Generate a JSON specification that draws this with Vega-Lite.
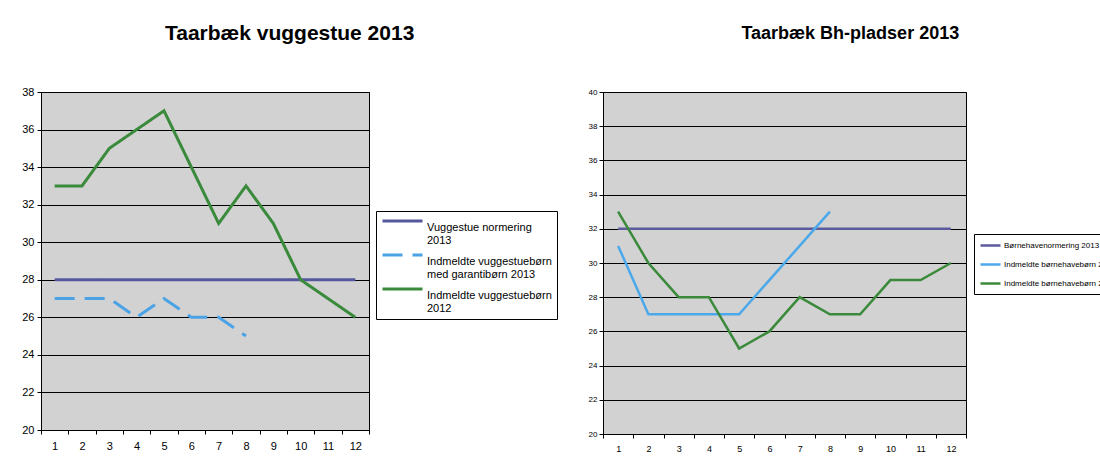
{
  "$schema": "https://vega.github.io/schema/vega-lite/v6.json",
  "background": "white",
  "padding": {"left": 21, "top": 22, "right": 0, "bottom": 0},
  "spacing": 29,
  "resolve": {
    "scale": {"color": "independent", "strokeDash": "independent", "x": "independent", "y": "independent"},
    "legend": {"color": "independent", "strokeDash": "independent"}
  },
  "datasets": {
    "vuggestue": [
      {"serie": "Vuggestue normering 2013", "maaned": 1, "antal": 28},
      {"serie": "Vuggestue normering 2013", "maaned": 2, "antal": 28},
      {"serie": "Vuggestue normering 2013", "maaned": 3, "antal": 28},
      {"serie": "Vuggestue normering 2013", "maaned": 4, "antal": 28},
      {"serie": "Vuggestue normering 2013", "maaned": 5, "antal": 28},
      {"serie": "Vuggestue normering 2013", "maaned": 6, "antal": 28},
      {"serie": "Vuggestue normering 2013", "maaned": 7, "antal": 28},
      {"serie": "Vuggestue normering 2013", "maaned": 8, "antal": 28},
      {"serie": "Vuggestue normering 2013", "maaned": 9, "antal": 28},
      {"serie": "Vuggestue normering 2013", "maaned": 10, "antal": 28},
      {"serie": "Vuggestue normering 2013", "maaned": 11, "antal": 28},
      {"serie": "Vuggestue normering 2013", "maaned": 12, "antal": 28},
      {"serie": "Indmeldte vuggestuebørn med garantibørn 2013", "maaned": 1, "antal": 27},
      {"serie": "Indmeldte vuggestuebørn med garantibørn 2013", "maaned": 2, "antal": 27},
      {"serie": "Indmeldte vuggestuebørn med garantibørn 2013", "maaned": 3, "antal": 27},
      {"serie": "Indmeldte vuggestuebørn med garantibørn 2013", "maaned": 4, "antal": 26},
      {"serie": "Indmeldte vuggestuebørn med garantibørn 2013", "maaned": 5, "antal": 27},
      {"serie": "Indmeldte vuggestuebørn med garantibørn 2013", "maaned": 6, "antal": 26},
      {"serie": "Indmeldte vuggestuebørn med garantibørn 2013", "maaned": 7, "antal": 26},
      {"serie": "Indmeldte vuggestuebørn med garantibørn 2013", "maaned": 8, "antal": 25},
      {"serie": "Indmeldte vuggestuebørn 2012", "maaned": 1, "antal": 33},
      {"serie": "Indmeldte vuggestuebørn 2012", "maaned": 2, "antal": 33},
      {"serie": "Indmeldte vuggestuebørn 2012", "maaned": 3, "antal": 35},
      {"serie": "Indmeldte vuggestuebørn 2012", "maaned": 4, "antal": 36},
      {"serie": "Indmeldte vuggestuebørn 2012", "maaned": 5, "antal": 37},
      {"serie": "Indmeldte vuggestuebørn 2012", "maaned": 6, "antal": 34},
      {"serie": "Indmeldte vuggestuebørn 2012", "maaned": 7, "antal": 31},
      {"serie": "Indmeldte vuggestuebørn 2012", "maaned": 8, "antal": 33},
      {"serie": "Indmeldte vuggestuebørn 2012", "maaned": 9, "antal": 31},
      {"serie": "Indmeldte vuggestuebørn 2012", "maaned": 10, "antal": 28},
      {"serie": "Indmeldte vuggestuebørn 2012", "maaned": 11, "antal": 27},
      {"serie": "Indmeldte vuggestuebørn 2012", "maaned": 12, "antal": 26}
    ],
    "bh": [
      {"serie": "Børnehavenormering 2013", "maaned": 1, "antal": 32},
      {"serie": "Børnehavenormering 2013", "maaned": 2, "antal": 32},
      {"serie": "Børnehavenormering 2013", "maaned": 3, "antal": 32},
      {"serie": "Børnehavenormering 2013", "maaned": 4, "antal": 32},
      {"serie": "Børnehavenormering 2013", "maaned": 5, "antal": 32},
      {"serie": "Børnehavenormering 2013", "maaned": 6, "antal": 32},
      {"serie": "Børnehavenormering 2013", "maaned": 7, "antal": 32},
      {"serie": "Børnehavenormering 2013", "maaned": 8, "antal": 32},
      {"serie": "Børnehavenormering 2013", "maaned": 9, "antal": 32},
      {"serie": "Børnehavenormering 2013", "maaned": 10, "antal": 32},
      {"serie": "Børnehavenormering 2013", "maaned": 11, "antal": 32},
      {"serie": "Børnehavenormering 2013", "maaned": 12, "antal": 32},
      {"serie": "Indmeldte børnehavebørn 2013", "maaned": 1, "antal": 31},
      {"serie": "Indmeldte børnehavebørn 2013", "maaned": 2, "antal": 27},
      {"serie": "Indmeldte børnehavebørn 2013", "maaned": 3, "antal": 27},
      {"serie": "Indmeldte børnehavebørn 2013", "maaned": 4, "antal": 27},
      {"serie": "Indmeldte børnehavebørn 2013", "maaned": 5, "antal": 27},
      {"serie": "Indmeldte børnehavebørn 2013", "maaned": 6, "antal": 29},
      {"serie": "Indmeldte børnehavebørn 2013", "maaned": 7, "antal": 31},
      {"serie": "Indmeldte børnehavebørn 2013", "maaned": 8, "antal": 33},
      {"serie": "Indmeldte børnehavebørn 2012", "maaned": 1, "antal": 33},
      {"serie": "Indmeldte børnehavebørn 2012", "maaned": 2, "antal": 30},
      {"serie": "Indmeldte børnehavebørn 2012", "maaned": 3, "antal": 28},
      {"serie": "Indmeldte børnehavebørn 2012", "maaned": 4, "antal": 28},
      {"serie": "Indmeldte børnehavebørn 2012", "maaned": 5, "antal": 25},
      {"serie": "Indmeldte børnehavebørn 2012", "maaned": 6, "antal": 26},
      {"serie": "Indmeldte børnehavebørn 2012", "maaned": 7, "antal": 28},
      {"serie": "Indmeldte børnehavebørn 2012", "maaned": 8, "antal": 27},
      {"serie": "Indmeldte børnehavebørn 2012", "maaned": 9, "antal": 27},
      {"serie": "Indmeldte børnehavebørn 2012", "maaned": 10, "antal": 29},
      {"serie": "Indmeldte børnehavebørn 2012", "maaned": 11, "antal": 29},
      {"serie": "Indmeldte børnehavebørn 2012", "maaned": 12, "antal": 30}
    ]
  },
  "config": {
    "font": "Liberation Sans",
    "view": {"fill": "#d2d2d2", "stroke": "#000000", "strokeWidth": 1},
    "axis": {
      "gridColor": "#000000",
      "gridOpacity": 1,
      "domainColor": "#000000",
      "tickColor": "#000000",
      "labelColor": "#000000",
      "labelFont": "Liberation Sans"
    },
    "legend": {"labelColor": "#000000", "labelFont": "Liberation Sans"}
  },
  "hconcat": [
    {
      "data": {"name": "vuggestue"},
      "width": 328,
      "height": 338,
      "title": {
        "text": "Taarbæk vuggestue 2013",
        "fontSize": 21,
        "fontWeight": "bold",
        "font": "Liberation Sans",
        "color": "#000000",
        "frame": "bounds",
        "anchor": "middle",
        "offset": 42
      },
      "mark": {"type": "line", "strokeWidth": 3},
      "encoding": {
        "x": {
          "field": "maaned",
          "type": "ordinal",
          "bandPosition": 0.5,
          "scale": {"type": "band", "paddingInner": 0, "paddingOuter": 0},
          "axis": {"title": null, "labelAngle": 0, "tickBand": "extent", "grid": false, "labelFontSize": 11, "labelPadding": 6, "tickSize": 4}
        },
        "y": {
          "field": "antal",
          "type": "quantitative",
          "scale": {"domain": [20, 38], "nice": false, "zero": false},
          "axis": {"title": null, "values": [20, 22, 24, 26, 28, 30, 32, 34, 36, 38], "grid": true, "labelFontSize": 11, "tickSize": 4, "labelPadding": 3}
        },
        "color": {
          "field": "serie",
          "type": "nominal",
          "scale": {
            "domain": ["Vuggestue normering 2013", "Indmeldte vuggestuebørn med garantibørn 2013", "Indmeldte vuggestuebørn 2012"],
            "range": ["#55589c", "#4aa3e6", "#3a8a3c"]
          },
          "legend": {
            "orient": "none",
            "legendX": 335,
            "legendY": 119,
            "title": null,
            "fillColor": "#ffffff",
            "strokeColor": "#000000",
            "padding": 5,
            "symbolType": "M-1,-0.65H3",
            "symbolSize": 400,
            "symbolStrokeWidth": 3,
            "labelFontSize": 11,
            "labelLimit": 300,
            "rowPadding": 3,
            "labelOffset": 23,
            "labelExpr": "datum.label == 'Vuggestue normering 2013' ? ['Vuggestue normering', '2013'] : datum.label == 'Indmeldte vuggestuebørn 2012' ? ['Indmeldte vuggestuebørn', '2012'] : ['Indmeldte vuggestuebørn', 'med garantibørn 2013']"
          }
        },
        "strokeDash": {
          "field": "serie",
          "type": "nominal",
          "scale": {
            "domain": ["Vuggestue normering 2013", "Indmeldte vuggestuebørn med garantibørn 2013", "Indmeldte vuggestuebørn 2012"],
            "range": [[1, 0], [20, 10], [1, 0]]
          },
          "legend": {
            "orient": "none",
            "legendX": 335,
            "legendY": 119,
            "title": null,
            "fillColor": "#ffffff",
            "strokeColor": "#000000",
            "padding": 5,
            "symbolType": "M-1,-0.65H3",
            "symbolSize": 400,
            "symbolStrokeWidth": 3,
            "labelFontSize": 11,
            "labelLimit": 300,
            "rowPadding": 3,
            "labelOffset": 23,
            "labelExpr": "datum.label == 'Vuggestue normering 2013' ? ['Vuggestue normering', '2013'] : datum.label == 'Indmeldte vuggestuebørn 2012' ? ['Indmeldte vuggestuebørn', '2012'] : ['Indmeldte vuggestuebørn', 'med garantibørn 2013']"
          }
        }
      }
    },
    {
      "data": {"name": "bh"},
      "width": 363,
      "height": 342,
      "title": {
        "text": "Taarbæk Bh-pladser 2013",
        "fontSize": 18,
        "fontWeight": "bold",
        "font": "Liberation Sans Narrow, Liberation Sans",
        "color": "#000000",
        "frame": "bounds",
        "anchor": "middle",
        "offset": 45,
        "dx": -5
      },
      "mark": {"type": "line", "strokeWidth": 2.5},
      "encoding": {
        "x": {
          "field": "maaned",
          "type": "ordinal",
          "bandPosition": 0.5,
          "scale": {"type": "band", "paddingInner": 0, "paddingOuter": 0},
          "axis": {"title": null, "labelAngle": 0, "tickBand": "extent", "grid": false, "labelFontSize": 9, "labelPadding": 6, "tickSize": 4}
        },
        "y": {
          "field": "antal",
          "type": "quantitative",
          "scale": {"domain": [20, 40], "nice": false, "zero": false},
          "axis": {"title": null, "values": [20, 22, 24, 26, 28, 30, 32, 34, 36, 38, 40], "grid": true, "labelFontSize": 8, "tickSize": 4, "labelPadding": 2}
        },
        "color": {
          "field": "serie",
          "type": "nominal",
          "scale": {
            "domain": ["Børnehavenormering 2013", "Indmeldte børnehavebørn 2013", "Indmeldte børnehavebørn 2012"],
            "range": ["#5b5b9e", "#4ba8ea", "#3b8a3b"]
          },
          "legend": {
            "orient": "none",
            "legendX": 371,
            "legendY": 142,
            "title": null,
            "fillColor": "#ffffff",
            "strokeColor": "#000000",
            "padding": 5,
            "symbolType": "M-1,0H3",
            "symbolSize": 100,
            "symbolStrokeWidth": 2.5,
            "labelFontSize": 8,
            "labelLimit": 300,
            "rowPadding": 7,
            "labelOffset": 12
          }
        }
      }
    }
  ]
}
